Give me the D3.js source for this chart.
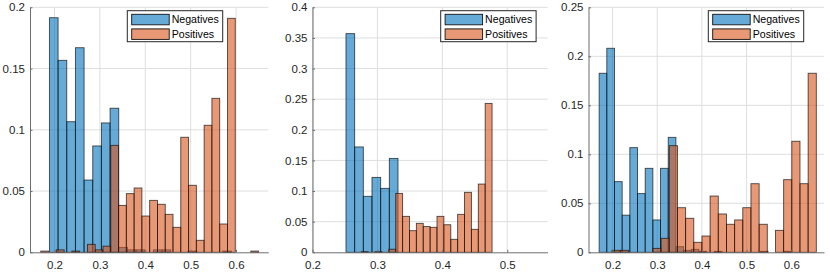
<!DOCTYPE html>
<html>
<head>
<meta charset="utf-8">
<script src="https://cdn.jsdelivr.net/npm/d3@7"></script>
<style>
  body { margin: 0; background: #fff; }
  svg { display: block; font-family: "Liberation Sans", Arial, sans-serif; }
  .tick text { fill: #262626; font-size: 11.5px; }
  .legend text { fill: #000; font-size: 10.6px; }
</style>
</head>
<body>
<div id="chart"></div>
<script>
// bin layout of each histogram (left edge of first bin, bin width), one entry per panel
const negStart = [0.1888, 0.2516, 0.17];
const negWidth = [0.01909, 0.01335, 0.01718];
const posStart = [0.1697, 0.2752, 0.199];
const posWidth = [0.01714, 0.0106, 0.01828];

// normalised counts (probability) per bin
const negValues1 = [0.1915, 0.1567, 0.1066, 0.1670, 0.0590, 0.0868, 0.1056, 0.1176,
  0.004, 0.002, 0.002, 0, 0.002, 0.002, 0, 0, 0.001, 0, 0, 0, 0.001];
const posValues1 = [0.001, 0, 0.002, 0, 0.001, 0, 0.0065, 0.002, 0.005, 0.0873, 0.0383,
  0.0479, 0.0525, 0.0296, 0.0424, 0.0392, 0.0310, 0.0204, 0.0939, 0.0547, 0.0098,
  0.1037, 0.1257, 0.0231, 0.1910, 0, 0, 0.001];

const negValues2 = [0.357, 0.172, 0.0914, 0.1223, 0.1044, 0.1533];
const posValues2 = [0.001, 0, 0.001, 0, 0.005, 0.0962, 0.0587, 0.0353, 0.0473, 0.042,
  0.0408, 0.0587, 0.045, 0.0212, 0.062, 0.0979, 0.0375, 0.1114, 0.2431];

const negValues3 = [0.1827, 0.2082, 0.0721, 0.0379, 0.1068, 0.0599, 0.0857, 0.033,
  0.0857, 0.1173, 0.0057, 0.002, 0.003, 0.001, 0, 0.001, 0, 0, 0, 0, 0, 0.001, 0, 0, 0.001];
const posValues3 = [0.002, 0.002, 0, 0, 0, 0.004, 0.0143, 0.1088, 0.0455, 0.0347, 0.0102,
  0.0166, 0.0574, 0.0391, 0.0286, 0.033, 0.0455, 0.070, 0.0286, 0, 0.0224, 0.0741,
  0.1133, 0.070, 0.1827];

// axis limits and ticks
const xLimits = [[0.146, 0.671], [0.2, 0.562], [0.1462, 0.6732]];
const yLimits = [0.2, 0.4, 0.25];
const xTicks1 = [0.2, 0.3, 0.4, 0.5, 0.6];
const xTicks2 = [0.2, 0.3, 0.4, 0.5];
const xTicks3 = [0.2, 0.3, 0.4, 0.5, 0.6];
const yTicks1 = [0, 0.05, 0.1, 0.15, 0.2];
const yTicks2 = [0, 0.05, 0.1, 0.15, 0.2, 0.25, 0.3, 0.35, 0.4];
const yTicks3 = [0, 0.05, 0.1, 0.15, 0.2, 0.25];

const seriesNames = ["Negatives", "Positives"];
const colors = ["rgb(0,114,189)", "rgb(217,83,25)"];

const width = 830, height = 274;
const plotTop = 7.3, plotBottom = 252.3;

// pixel placement of the three axes (left, right) and the legend box left edge
const layout = [
  { left: 30, right: 268.3, legendX: 127.3 },
  { left: 312.5, right: 547.5, legendX: 440.7 },
  { left: 588.5, right: 824, legendX: 708.3 }
];

const panels = [
  { neg: negValues1, pos: posValues1, xt: xTicks1, yt: yTicks1 },
  { neg: negValues2, pos: posValues2, xt: xTicks2, yt: yTicks2 },
  { neg: negValues3, pos: posValues3, xt: xTicks3, yt: yTicks3 }
];

const svg = d3.select("#chart").append("svg")
  .attr("width", width)
  .attr("height", height);

const fmt = v => String(+v.toFixed(3));

panels.forEach((p, k) => {
  const L = layout[k];
  const x = d3.scaleLinear().domain(xLimits[k]).range([L.left, L.right]);
  const y = d3.scaleLinear().domain([0, yLimits[k]]).range([plotBottom, plotTop]);

  const g = svg.append("g");

  // grid
  g.append("g").selectAll("line")
    .data(p.xt).enter().append("line")
    .attr("x1", d => x(d)).attr("x2", d => x(d))
    .attr("y1", plotTop).attr("y2", plotBottom)
    .attr("stroke", "#dedede").attr("stroke-width", 1);
  g.append("g").selectAll("line")
    .data(p.yt.filter(d => d > 0)).enter().append("line")
    .attr("x1", L.left).attr("x2", L.right)
    .attr("y1", d => y(d)).attr("y2", d => y(d))
    .attr("stroke", "#dedede").attr("stroke-width", 1);

  // bars: negatives first, positives on top
  const series = [
    { vals: p.neg, start: negStart[k], w: negWidth[k], c: colors[0] },
    { vals: p.pos, start: posStart[k], w: posWidth[k], c: colors[1] }
  ];
  series.forEach(s => {
    const bins = s.vals.map((v, i) => ({ x0: s.start + i * s.w, x1: s.start + (i + 1) * s.w, v: v }))
      .filter(b => b.v > 0);
    g.append("g").selectAll("rect")
      .data(bins).enter().append("rect")
      .attr("x", b => x(b.x0))
      .attr("width", b => x(b.x1) - x(b.x0))
      .attr("y", b => y(b.v))
      .attr("height", b => y(0) - y(b.v))
      .attr("fill", s.c)
      .attr("fill-opacity", 0.6)
      .attr("stroke", "#111")
      .attr("stroke-opacity", 0.75)
      .attr("stroke-width", 0.9);
  });

  // axes
  const xAxis = g.append("g")
    .attr("transform", "translate(0," + plotBottom + ")")
    .call(d3.axisBottom(x).tickValues(p.xt).tickFormat(fmt).tickSizeInner(-2.5).tickSizeOuter(0).tickPadding(8.5));
  const yAxis = g.append("g")
    .attr("transform", "translate(" + L.left + ",0)")
    .call(d3.axisLeft(y).tickValues(p.yt).tickFormat(fmt).tickSizeInner(-2.5).tickSizeOuter(0).tickPadding(5));
  [xAxis, yAxis].forEach(a => {
    a.select(".domain").attr("stroke", "#6e6e6e");
    a.selectAll(".tick line").attr("stroke", "#6e6e6e");
    a.attr("font-family", null).attr("font-size", null);
  });

  // legend
  const lg = g.append("g").attr("class", "legend")
    .attr("transform", "translate(" + L.legendX + ",10.7)");
  lg.append("rect")
    .attr("x", 0).attr("y", 0).attr("width", 95.4).attr("height", 31)
    .attr("fill", "#fff").attr("stroke", "#262626").attr("stroke-width", 1);
  seriesNames.forEach((name, i) => {
    lg.append("rect")
      .attr("x", 4.4).attr("y", 3.6 + i * 14.6)
      .attr("width", 37.5).attr("height", 10.5)
      .attr("fill", colors[i]).attr("fill-opacity", 0.6)
      .attr("stroke", "#111").attr("stroke-width", 0.9);
    lg.append("text")
      .attr("x", 44.4).attr("y", 12.6 + i * 14.6)
      .text(name);
  });
});
</script>
</body>
</html>
